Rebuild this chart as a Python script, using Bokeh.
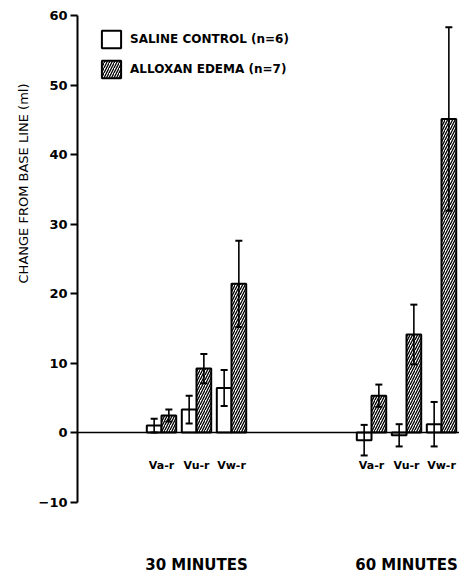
from bokeh.plotting import figure
from bokeh.models import (ColumnDataSource, Span, Legend, LegendItem,
                          FixedTicker, Range1d, Title)
from bokeh.core.properties import value
from bokeh.embed import file_html
from bokeh.resources import INLINE

# ---- data ----
groups = ["30 MINUTES", "60 MINUTES"]
measures = ["Va-r", "Vu-r", "Vw-r"]
saline_mean = [1.0, 3.3, 6.4, -1.1, -0.4, 1.2]
saline_sem = [1.0, 2.0, 2.6, 2.2, 1.6, 3.2]
alloxan_mean = [2.45, 9.2, 21.4, 5.3, 14.1, 45.1]
alloxan_sem = [0.85, 2.1, 6.2, 1.6, 4.3, 13.2]
y_ticks = [-10, 0, 10, 20, 30, 40, 50, 60]

# ---- layout helpers ----
group_gap = 6          # slots between first measure of each group
bar_w = 0.42
cap_w = 0.2

slots = [g * group_gap + m for g in range(len(groups)) for m in range(len(measures))]
labels = [measures[m] for g in range(len(groups)) for m in range(len(measures))]
xs_sal = [s - bar_w / 2 for s in slots]
xs_all = [s + bar_w / 2 for s in slots]

p = figure(width=459, height=578, output_backend="svg", toolbar_location=None,
           x_range=Range1d(-2.4, 8.514), y_range=Range1d(-21.0, 60),
           x_axis_location=None, min_border_left=77, min_border_right=0,
           min_border_top=15, min_border_bottom=0)
p.outline_line_color = None
p.grid.visible = False
p.background_fill_color = "white"

# y axis
ax = p.yaxis[0]
ax.ticker = FixedTicker(ticks=y_ticks)
ax.bounds = (-10, 60)
ax.axis_line_width = 2
ax.major_tick_line_width = 2
ax.major_tick_out = 7
ax.major_tick_in = 0
ax.minor_tick_line_color = None
ax.major_label_standoff = 3
ax.major_label_text_font = "DejaVu Sans"
ax.major_label_text_font_style = "bold"
ax.major_label_text_font_size = "13px"
ax.major_label_text_color = "black"

# zero line
p.add_layout(Span(location=0, dimension="width", line_color="black", line_width=1.5))

src_s = ColumnDataSource(dict(x=xs_sal, top=saline_mean))
src_a = ColumnDataSource(dict(x=xs_all, top=alloxan_mean))

r_sal = p.vbar(x="x", top="top", bottom=0, width=bar_w, source=src_s,
               fill_color="white", line_color="black", line_width=2)
r_all = p.vbar(x="x", top="top", bottom=0, width=bar_w, source=src_a,
               fill_color="white", line_color="black", line_width=2,
               hatch_pattern="/", hatch_color="black", hatch_scale=5,
               hatch_weight=1.3)

# error bars
for xs, mean, sem in ((xs_sal, saline_mean, saline_sem), (xs_all, alloxan_mean, alloxan_sem)):
    lo = [m - s for m, s in zip(mean, sem)]
    hi = [m + s for m, s in zip(mean, sem)]
    p.segment(x0=xs, x1=xs, y0=lo, y1=hi, line_color="black", line_width=1.6)
    p.segment(x0=[x - cap_w / 2 for x in xs], x1=[x + cap_w / 2 for x in xs],
              y0=hi, y1=hi, line_color="black", line_width=2)
    p.segment(x0=[x - cap_w / 2 for x in xs], x1=[x + cap_w / 2 for x in xs],
              y0=lo, y1=lo, line_color="black", line_width=2)

# category labels
p.text(x=slots, y=[-4.75] * len(slots), text=labels,
       text_font=value("DejaVu Sans"), text_font_style="bold",
       text_font_size="11px", text_align="center", text_baseline="middle",
       text_color="black")
group_x = [g * group_gap + (len(measures) - 1) / 2 for g in range(len(groups))]
p.text(x=group_x, y=[-19.1] * len(groups), text=groups,
       text_font=value("DejaVu Sans"), text_font_style="bold", text_font_size="15px",
       text_align="center", text_baseline="middle", text_color="black")

# y axis title
p.add_layout(Title(text="CHANGE FROM BASE LINE (ml)", align="right", offset=68,
                   text_font="DejaVu Sans", text_font_size="13px",
                   text_font_style="normal", text_color="black"), "left")

legend = Legend(items=[LegendItem(label="SALINE CONTROL (n=6)", renderers=[r_sal]),
                       LegendItem(label="ALLOXAN EDEMA (n=7)", renderers=[r_all])],
                location=(22, 498), padding=0, margin=0, spacing=8,
                glyph_width=24, glyph_height=22, label_height=22, label_standoff=7,
                border_line_alpha=0, background_fill_alpha=0,
                label_text_font="DejaVu Sans", label_text_font_style="bold",
                label_text_font_size="12px", label_text_color="black")
p.add_layout(legend)

open("out.html", "w").write(file_html(p, INLINE))
